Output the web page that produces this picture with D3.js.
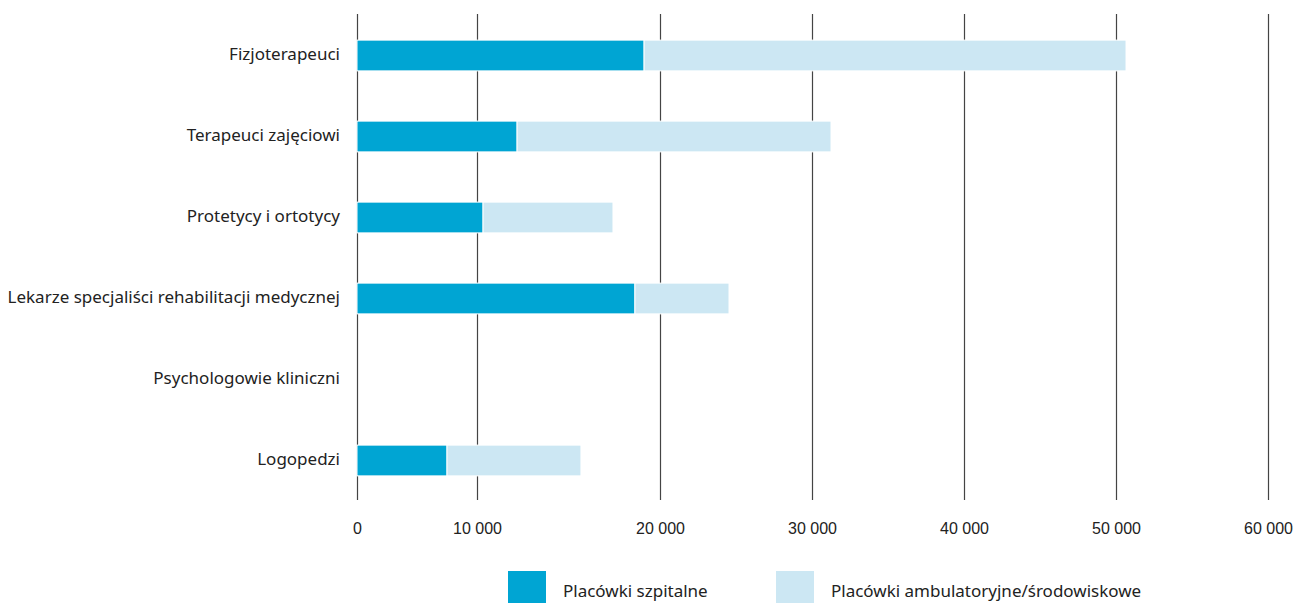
<!DOCTYPE html>
<html>
<head>
<meta charset="utf-8">
<script src="https://cdn.jsdelivr.net/npm/d3@7"></script>
<style>
  body { margin: 0; background: #fff; }
  svg { font-family: "Noto Sans", "Open Sans", sans-serif; }
</style>
</head>
<body>
<svg id="chart" width="1297" height="603"></svg>
<script>
// data
var categories = ["Fizjoterapeuci", "Terapeuci zajęciowi", "Protetycy i ortotycy",
  "Lekarze specjaliści rehabilitacji medycznej", "Psychologowie kliniczni", "Logopedzi"]
var szpitalne = [19130, 12190, 10330, 18630, 0, 7500]
var ambulatoryjne = [31530, 19060, 7100, 5910, 0, 8180]
var xTicks = [0, 10000, 20000, 30000, 40000, 50000, 60000]
var seriesNames = ["Placówki szpitalne", "Placówki ambulatoryjne/środowiskowe"]
var colors = ["#00a5d3", "#cce7f3"]

var svg = d3.select("#chart")

// the source axis has uneven tick spacing (0 -> 10 000 is shorter), so the scale is piecewise
var x = d3.scaleLinear()
  .domain(xTicks)
  .range([357, 477, 660, 812, 964, 1116, 1268])

var y = d3.scaleBand()
  .domain(categories)
  .range([15, 501])
  .paddingInner(0.62)
  .paddingOuter(0.31)

// grid + tick labels
var xAxis = svg.append("g")
  .attr("transform", "translate(0,500)")
  .call(d3.axisBottom(x).tickValues(xTicks).tickSize(-486).tickPadding(23)
    .tickFormat(function (d) { return d3.format(",")(d).replace(/,/g, " ") }))
xAxis.select(".domain").remove()
xAxis.selectAll("line").attr("stroke", "#444").attr("stroke-width", 1.2)
xAxis.selectAll("text").attr("fill", "#222").style("font-size", "16px")

// category labels
svg.append("g").selectAll("text")
  .data(categories)
  .join("text")
  .attr("x", 340)
  .attr("y", function (d) { return y(d) + y.bandwidth() / 2 - 1 })
  .attr("dy", "0.35em")
  .attr("text-anchor", "end")
  .attr("fill", "#222")
  .style("font-size", "17px")
  .text(function (d) { return d })

// stacked bars
var rows = categories.map(function (c, i) { return { cat: c, a: szpitalne[i], b: ambulatoryjne[i] } })
var stack = d3.stack().keys(["a", "b"])(rows)

svg.append("g").selectAll("g")
  .data(stack)
  .join("g")
  .attr("fill", function (d, i) { return colors[i] })
  .selectAll("rect")
  .data(function (d) { return d })
  .join("rect")
  .attr("x", function (d) { return x(d[0]) })
  .attr("y", function (d) { return y(d.data.cat) })
  .attr("width", function (d) { return Math.max(0, x(d[1]) - x(d[0])) })
  .attr("height", y.bandwidth())
  .attr("stroke", "#fff")
  .attr("stroke-width", function (d) { return d[1] > d[0] ? 1 : 0 })

// legend
var legendX = [508, 776]
var lg = svg.append("g").selectAll("g")
  .data(seriesNames)
  .join("g")
  .attr("transform", function (d, i) { return "translate(" + legendX[i] + ",571)" })
lg.append("rect").attr("width", 38).attr("height", 32)
  .attr("fill", function (d, i) { return colors[i] })
lg.append("text").attr("x", 55).attr("y", 20).attr("dy", "0.35em")
  .attr("fill", "#222").style("font-size", "17px")
  .text(function (d) { return d })
</script>
</body>
</html>
